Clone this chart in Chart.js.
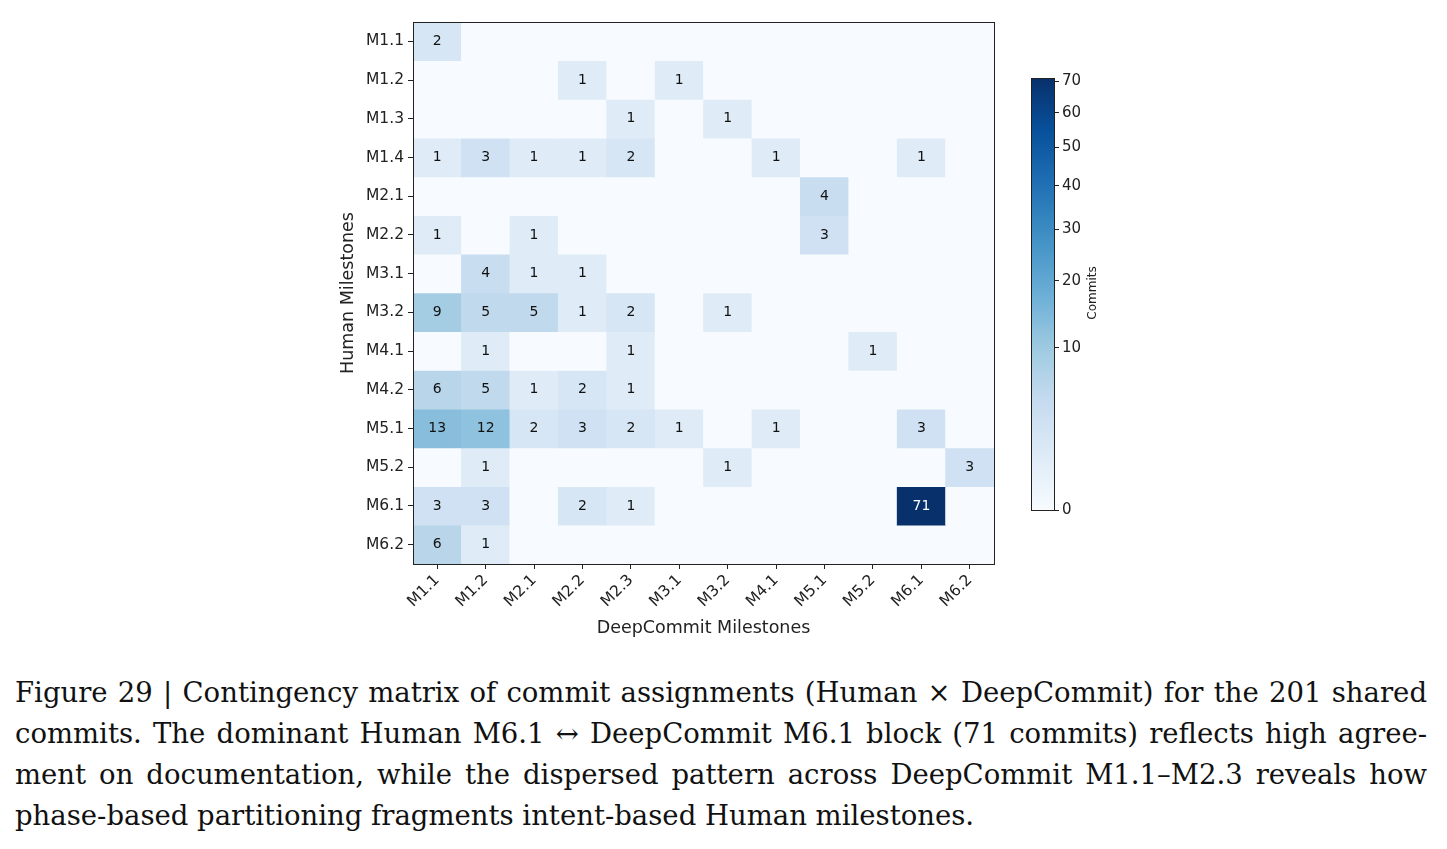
<!DOCTYPE html>
<html>
<head>
<meta charset="utf-8">
<script src="https://cdn.jsdelivr.net/npm/chart.js@4.4.0/dist/chart.umd.min.js"></script>
<style>
  body { margin: 0; background: #fff; width: 1447px; height: 849px; position: relative; overflow: hidden; }
  #heat { position: absolute; left: 0; top: 0; }
  #cbar { position: absolute; left: 1000px; top: 60px; }
  .caption { position: absolute; left: 15px; top: 672px; width: 1412px; font-family: "DejaVu Serif", serif; font-size: 27.5px; line-height: 41px; color: #111; }
  .caption div { text-align: justify; text-align-last: justify; }
  .caption div.last { text-align-last: left; }
</style>
</head>
<body>
<canvas id="heat" width="1447" height="650"></canvas>
<canvas id="cbar" width="120" height="470"></canvas>
<div class="caption">
  <div>Figure 29 | Contingency matrix of commit assignments (Human × DeepCommit) for the 201 shared</div>
  <div>commits. The dominant Human M6.1 ↔ DeepCommit M6.1 block (71 commits) reflects high agree-</div>
  <div>ment on documentation, while the dispersed pattern across DeepCommit M1.1–M2.3 reveals how</div>
  <div class="last">phase-based partitioning fragments intent-based Human milestones.</div>
</div>
<script>
// DeepCommit milestones (kolom) dan Human milestones (baris)
const dcMilestones = ["M1.1", "M1.2", "M2.1", "M2.2", "M2.3", "M3.1", "M3.2", "M4.1", "M5.1", "M5.2", "M6.1", "M6.2"];
const humanMilestones = ["M1.1", "M1.2", "M1.3", "M1.4", "M2.1", "M2.2", "M3.1", "M3.2", "M4.1", "M4.2", "M5.1", "M5.2", "M6.1", "M6.2"];

// jumlah commit per baris human
const rowM11 = [2, 0, 0, 0, 0, 0, 0, 0, 0, 0, 0, 0];
const rowM12 = [0, 0, 0, 1, 0, 1, 0, 0, 0, 0, 0, 0];
const rowM13 = [0, 0, 0, 0, 1, 0, 1, 0, 0, 0, 0, 0];
const rowM14 = [1, 3, 1, 1, 2, 0, 0, 1, 0, 0, 1, 0];
const rowM21 = [0, 0, 0, 0, 0, 0, 0, 0, 4, 0, 0, 0];
const rowM22 = [1, 0, 1, 0, 0, 0, 0, 0, 3, 0, 0, 0];
const rowM31 = [0, 4, 1, 1, 0, 0, 0, 0, 0, 0, 0, 0];
const rowM32 = [9, 5, 5, 1, 2, 0, 1, 0, 0, 0, 0, 0];
const rowM41 = [0, 1, 0, 0, 1, 0, 0, 0, 0, 1, 0, 0];
const rowM42 = [6, 5, 1, 2, 1, 0, 0, 0, 0, 0, 0, 0];
const rowM51 = [13, 12, 2, 3, 2, 1, 0, 1, 0, 0, 3, 0];
const rowM52 = [0, 1, 0, 0, 0, 0, 1, 0, 0, 0, 0, 3];
const rowM61 = [3, 3, 0, 2, 1, 0, 0, 0, 0, 0, 71, 0];
const rowM62 = [6, 1, 0, 0, 0, 0, 0, 0, 0, 0, 0, 0];
const matrix = [rowM11, rowM12, rowM13, rowM14, rowM21, rowM22, rowM31, rowM32, rowM41, rowM42, rowM51, rowM52, rowM61, rowM62];

const colorbarTicks = [0, 10, 20, 30, 40, 50, 60, 70];
const vmax = 71;

// colormap Blues (matplotlib)
const blues = [
  [247, 251, 255], [222, 235, 247], [198, 219, 239], [158, 202, 225], [107, 174, 214],
  [66, 146, 198], [33, 113, 181], [8, 81, 156], [8, 48, 107]
];

function bluesColor(v) {
  const t = Math.sqrt(Math.max(v, 0) / vmax) * (blues.length - 1);
  const i = Math.min(Math.floor(t), blues.length - 2);
  const f = t - i;
  const a = blues[i], b = blues[i + 1];
  const c = a.map((x, k) => Math.round(x + (b[k] - x) * f));
  return `rgb(${c[0]},${c[1]},${c[2]})`;
}

const tickFont = { family: "DejaVu Sans", size: 15.5 };
const titleFont = { family: "DejaVu Sans", size: 17.5 };
const inkColor = "#222";

// angka di tiap sel + bingkai
const cellLabels = {
  id: "cellLabels",
  afterDatasetsDraw(chart) {
    const ctx = chart.ctx;
    ctx.save();
    ctx.font = '14px "DejaVu Sans"';
    ctx.textAlign = "center";
    ctx.textBaseline = "middle";
    chart.data.datasets.forEach((ds, di) => {
      chart.getDatasetMeta(di).data.forEach((bar, ci) => {
        const v = matrix[di][ci];
        if (!v) return;
        const p = bar.getProps(["x", "y", "base"], true);
        ctx.fillStyle = v > 35 ? "#fff" : "#111";
        ctx.fillText(String(v), p.x, (p.y + p.base) / 2);
      });
    });
    ctx.restore();
  },
  afterDraw(chart) {
    const a = chart.chartArea;
    const ctx = chart.ctx;
    ctx.save();
    ctx.strokeStyle = inkColor;
    ctx.lineWidth = 1;
    ctx.strokeRect(Math.round(a.left) + 0.5, Math.round(a.top) + 0.5, Math.round(a.width), Math.round(a.height));
    ctx.restore();
  },
};

// Heatmap utama
new Chart(document.getElementById("heat"), {
  type: "bar",
  data: {
    labels: dcMilestones,
    datasets: matrix.map((row, r) => ({
      label: humanMilestones[r],
      data: row.map(() => [r - 0.5, r + 0.5]),
      backgroundColor: row.map((v) => bluesColor(v)),
      borderWidth: 0,
      barPercentage: 1,
      categoryPercentage: 1,
      grouped: false,
    })),
  },
  options: {
    responsive: false,
    animation: false,
    events: [],
    plugins: { legend: { display: false }, tooltip: { enabled: false } },
    layout: { padding: { left: 335, top: 22, right: 453, bottom: 4 } },
    scales: {
      x: {
        ticks: { font: tickFont, color: inkColor, maxRotation: 45, minRotation: 45, padding: 2 },
        grid: { drawOnChartArea: false, offset: false, tickLength: 5, color: inkColor },
        border: { display: false },
        title: { display: true, text: "DeepCommit Milestones", font: titleFont, color: inkColor, padding: { top: 4, bottom: 7 } },
        afterFit: (s) => { s.height = 82; },
      },
      y: {
        type: "linear",
        reverse: true,
        min: -0.5,
        max: humanMilestones.length - 0.5,
        afterBuildTicks: (s) => { s.ticks = humanMilestones.map((_, i) => ({ value: i })); },
        ticks: { font: tickFont, color: inkColor, padding: 4, callback: (v) => humanMilestones[v] },
        grid: { drawOnChartArea: false, tickLength: 5, color: inkColor },
        border: { display: false },
        title: { display: true, text: "Human Milestones", font: titleFont, color: inkColor, padding: { top: 3, bottom: 3 } },
        afterFit: (s) => { s.width = 78; },
      },
    },
  },
  plugins: [cellLabels],
});

// Colorbar
const colorbarDeco = {
  id: "colorbarDeco",
  afterDraw(chart) {
    const a = chart.chartArea;
    const ctx = chart.ctx;
    ctx.save();
    ctx.strokeStyle = inkColor;
    ctx.lineWidth = 1;
    ctx.strokeRect(Math.round(a.left) + 0.5, Math.round(a.top) + 0.5, Math.round(a.width), Math.round(a.height));
    ctx.translate(93, 233);
    ctx.rotate(-Math.PI / 2);
    ctx.font = '12px "DejaVu Sans"';
    ctx.fillStyle = inkColor;
    ctx.textAlign = "center";
    ctx.textBaseline = "middle";
    ctx.fillText("Commits", 0, 0);
    ctx.restore();
  },
};

new Chart(document.getElementById("cbar"), {
  type: "bar",
  data: {
    labels: ["Commits"],
    datasets: [{
      data: [[0, Math.sqrt(vmax)]],
      backgroundColor: (c) => {
        const area = c.chart.chartArea;
        if (!area) return null;
        const g = c.chart.ctx.createLinearGradient(0, area.bottom, 0, area.top);
        blues.forEach((col, i) => g.addColorStop(i / (blues.length - 1), `rgb(${col.join(",")})`));
        return g;
      },
      borderWidth: 0,
      barPercentage: 1,
      categoryPercentage: 1,
    }],
  },
  options: {
    responsive: false,
    animation: false,
    events: [],
    plugins: { legend: { display: false }, tooltip: { enabled: false } },
    layout: { padding: { left: 31, top: 18, bottom: 20, right: 0 } },
    scales: {
      x: { display: false },
      y: {
        position: "right",
        min: 0,
        max: Math.sqrt(vmax),
        afterBuildTicks: (s) => { s.ticks = colorbarTicks.map((v) => ({ value: Math.sqrt(v) })); },
        ticks: { font: { family: "DejaVu Sans", size: 15 }, color: inkColor, padding: 3, callback: (v) => Math.round(v * v) },
        grid: { drawOnChartArea: false, tickLength: 5, color: inkColor },
        border: { display: false },
        afterFit: (s) => { s.width = 66; },
      },
    },
  },
  plugins: [colorbarDeco],
});
</script>
</body>
</html>
